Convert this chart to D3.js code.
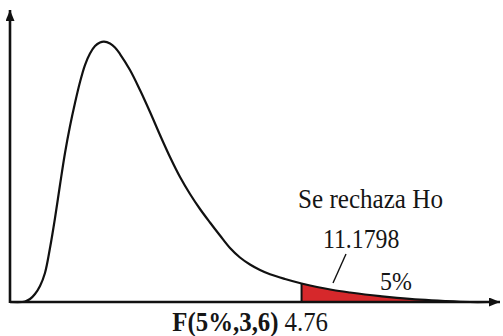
<!DOCTYPE html>
<html>
<head>
<meta charset="utf-8">
<script src="https://cdn.jsdelivr.net/npm/d3@7"></script>
<style>
  body { margin: 0; background: #fff; }
  svg { display: block; }
  text { font-family: "Liberation Serif", "Times New Roman", serif; fill: #151515; }
</style>
</head>
<body>
<div id="chart"></div>
<script>
// curve (x in F units, y as share of plot height)
const curveX = [0, 0.196, 0.245, 0.327, 0.408, 0.49, 0.571, 0.653, 0.735, 0.816, 0.898, 0.98, 1.061, 1.143, 1.224, 1.306, 1.388, 1.469, 1.535, 1.633, 1.714, 1.796, 1.959, 2.122, 2.286, 2.449, 2.612, 2.776, 2.939, 3.102, 3.265, 3.429, 3.592, 3.755, 3.918, 4.082, 4.245, 4.49, 4.76, 5.012, 5.273, 5.551, 5.796, 6.041, 6.318, 6.694, 7.102, 7.51, 7.8];
const curveY = [0, 0, 0.0017, 0.0103, 0.0274, 0.0548, 0.0993, 0.1849, 0.2877, 0.4007, 0.5103, 0.6027, 0.6815, 0.7534, 0.8116, 0.851, 0.8767, 0.8887, 0.8918, 0.8853, 0.8716, 0.8493, 0.7945, 0.726, 0.6507, 0.5719, 0.4966, 0.4281, 0.3699, 0.3185, 0.2723, 0.2277, 0.1849, 0.1524, 0.1284, 0.1096, 0.0949, 0.0788, 0.0634, 0.0514, 0.0411, 0.0325, 0.0257, 0.0199, 0.0144, 0.0082, 0.0034, 0, 0];
const critValue = 4.76;
const labels = { reject: 'Se rechaza Ho', stat: '11.1798', alpha: '5%', critName: 'F(5%,3,6)', crit: '4.76' };

const width = 503, height = 336;
const svg = d3.select('#chart').append('svg')
  .attr('width', width)
  .attr('height', height);

const x = d3.scaleLinear().domain([0, 8]).range([10, 500]);
const y = d3.scaleLinear().domain([0, 1]).range([302, 10]);

const points = curveX.map((v, i) => ({ x: v, y: curveY[i] }));
const curve = d3.curveCatmullRom.alpha(0.5);

const defs = svg.append('defs');
defs.append('marker')
  .attr('id', 'arrow')
  .attr('markerUnits', 'userSpaceOnUse')
  .attr('markerWidth', 12).attr('markerHeight', 10)
  .attr('refX', 11).attr('refY', 4.5)
  .attr('orient', 'auto')
  .append('path')
  .attr('d', 'M0,0L11,4.5L0,9Z')
  .attr('fill', '#111');

defs.append('clipPath').attr('id', 'tail')
  .append('rect')
  .attr('x', x(critValue)).attr('y', 0)
  .attr('width', width - x(critValue)).attr('height', y(0));

// rejection area
svg.append('path')
  .datum(points)
  .attr('clip-path', 'url(#tail)')
  .attr('fill', '#d6282b')
  .attr('d', d3.area().x(d => x(d.x)).y0(y(0)).y1(d => y(d.y)).curve(curve));

// critical line
svg.append('line')
  .attr('x1', x(critValue)).attr('x2', x(critValue))
  .attr('y1', y(0)).attr('y2', y(points.find(d => d.x === critValue).y))
  .attr('stroke', '#111').attr('stroke-width', 2);

// density curve
svg.append('path')
  .datum(points)
  .attr('fill', 'none')
  .attr('stroke', '#111')
  .attr('stroke-width', 2.2)
  .attr('d', d3.line().x(d => x(d.x)).y(d => y(d.y)).curve(curve));

// axes
svg.append('line')
  .attr('x1', x.range()[0]).attr('x2', x.range()[1])
  .attr('y1', y(0)).attr('y2', y(0))
  .attr('stroke', '#111').attr('stroke-width', 2.6)
  .attr('marker-end', 'url(#arrow)');
svg.append('line')
  .attr('x1', x(0)).attr('x2', x(0))
  .attr('y1', y.range()[0] + 1).attr('y2', y.range()[1])
  .attr('stroke', '#111').attr('stroke-width', 2.6)
  .attr('marker-end', 'url(#arrow)');

// annotations (serif text a bit taller than wide, as in the original)
function label(tx, ty, str, size, opts = {}) {
  return svg.append('text')
    .attr('transform', `translate(${tx},${ty}) scale(${opts.sx || 0.9},1)`)
    .attr('text-anchor', opts.anchor || 'start')
    .style('font-size', size + 'px')
    .style('font-weight', opts.bold ? 'bold' : 'normal')
    .text(str);
}

label(298, 208, labels.reject, 27, { sx: 0.93 });
label(323, 248, labels.stat, 27, { sx: 0.88 });
svg.append('line')
  .attr('x1', 346).attr('y1', 254)
  .attr('x2', 333).attr('y2', 283)
  .attr('stroke', '#111').attr('stroke-width', 1.4);
label(380, 290, labels.alpha, 26, { sx: 0.92 });

label(x(critValue) - 23, 331, labels.critName, 27, { bold: true, anchor: 'end', sx: 0.92 });
label(x(critValue) - 17, 331, labels.crit, 27, { sx: 0.92 });
</script>
</body>
</html>
